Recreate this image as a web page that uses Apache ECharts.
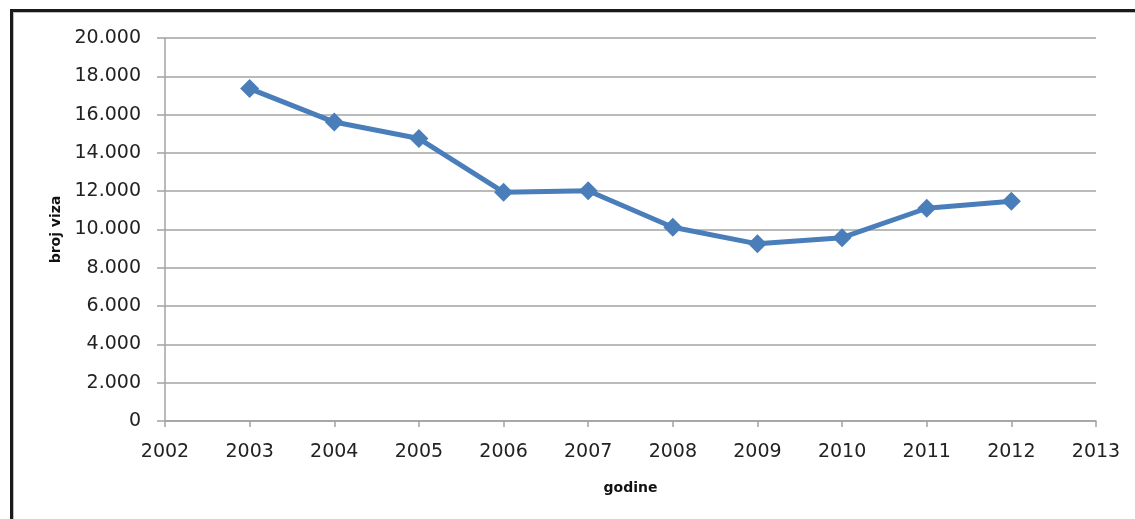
<!DOCTYPE html>
<html>
<head>
<meta charset="utf-8">
<script src="https://cdn.jsdelivr.net/npm/echarts@6/dist/echarts.min.js"></script>
<style>
html,body{margin:0;padding:0;background:#fff;}
#wrap{position:relative;width:1135px;height:519px;overflow:hidden;}
#chart{position:absolute;left:0;top:0;width:1135px;height:519px;}
#frame{position:absolute;left:10px;top:9px;width:1200px;height:600px;border-top:3px solid #1a1a1a;border-left:3px solid #1a1a1a;box-shadow:inset 1px 1px 0 #bdbdbd;pointer-events:none;}
</style>
</head>
<body>
<div id="wrap">
<div id="chart"></div>
<div id="frame"></div>
</div>
<script>
const years = [2003, 2004, 2005, 2006, 2007, 2008, 2009, 2010, 2011, 2012];
const visas = [17360, 15610, 14750, 11950, 12020, 10120, 9250, 9570, 11110, 11480];
const xTitle = 'godine';
const yTitle = 'broj viza';

const chart = echarts.init(document.getElementById('chart'), null, {renderer: 'canvas'});
const fmtThousands = v => {
  if (v === 0) return '0';
  return String(v).replace(/\B(?=(\d{3})+(?!\d))/g, '.');
};
chart.setOption({
  animation: false,
  grid: {left: 165, right: 39, top: 38, bottom: 98, containLabel: false},
  xAxis: {
    type: 'value', min: 2002, max: 2013, interval: 1,
    name: xTitle, nameLocation: 'middle', nameGap: 60,
    nameTextStyle: {fontFamily: 'DejaVu Sans', fontWeight: 'bold', fontSize: 14, color: '#111'},
    axisLine: {show: true, lineStyle: {color: '#a3a3a3', width: 1.5}},
    axisTick: {show: true, length: 6, lineStyle: {color: '#a3a3a3', width: 1.5}},
    axisLabel: {formatter: v => String(v), fontFamily: 'DejaVu Sans', fontSize: 19, color: '#222', margin: 22},
    splitLine: {show: false}
  },
  yAxis: {
    type: 'value', min: 0, max: 20000, interval: 2000,
    name: yTitle, nameLocation: 'middle', nameGap: 100, nameRotate: 90,
    nameTextStyle: {fontFamily: 'DejaVu Sans', fontWeight: 'bold', fontSize: 14, color: '#111'},
    axisLine: {show: true, lineStyle: {color: '#a3a3a3', width: 1.5}},
    axisTick: {show: true, length: 8, lineStyle: {color: '#a3a3a3', width: 1.5}},
    axisLabel: {formatter: fmtThousands, fontFamily: 'DejaVu Sans', fontSize: 19, color: '#222', margin: 24},
    splitLine: {show: true, lineStyle: {color: '#a3a3a3', width: 1.5}}
  },
  series: [{
    type: 'line',
    data: years.map((y, i) => [y, visas[i]]),
    symbol: 'diamond', symbolSize: 19,
    lineStyle: {color: '#4a7ebb', width: 5},
    itemStyle: {color: '#4a7ebb'}
  }]
});
</script>
</body>
</html>
